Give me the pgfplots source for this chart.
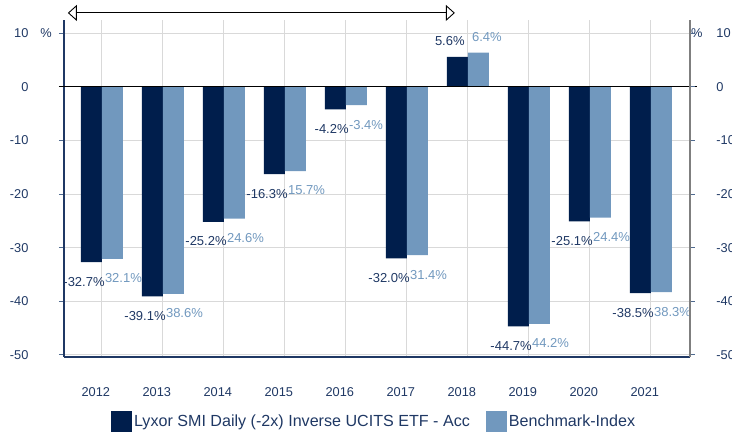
\documentclass[border=0pt]{standalone}
\usepackage{pgfplots}
\pgfplotsset{compat=1.18}
\usepackage{fontspec}
\setmainfont{Liberation Sans}
\usetikzlibrary{arrows.meta}
\definecolor{darkbar}{HTML}{001E4C}
\definecolor{lightbar}{HTML}{7198BE}
\definecolor{navytext}{HTML}{1F3864}
\definecolor{gridgray}{HTML}{D9D9D9}
\definecolor{tickgray}{HTML}{4F6A8F}
\definecolor{rightaxis}{HTML}{7F7F7F}

\pgfplotstableread{
x y label
0 -32.7 {-32.7\%}
1 -39.1 {-39.1\%}
2 -25.2 {-25.2\%}
3 -16.3 {-16.3\%}
4 -4.2 {-4.2\%}
5 -32.0 {-32.0\%}
6 5.6 {5.6\%}
7 -44.7 {-44.7\%}
8 -25.1 {-25.1\%}
9 -38.5 {-38.5\%}
}\fundtable

\pgfplotstableread{
x y label
0 -32.1 {32.1\%}
1 -38.6 {38.6\%}
2 -24.6 {24.6\%}
3 -15.7 {15.7\%}
4 -3.4 {-3.4\%}
5 -31.4 {31.4\%}
6 6.4 {6.4\%}
7 -44.2 {44.2\%}
8 -24.4 {24.4\%}
9 -38.3 {38.3\%}
}\benchtable

\begin{document}
\begin{tikzpicture}[font=\fontsize{12.8}{15}\selectfont]
\begin{axis}[
  name=main,
  scale only axis,
  width=625.9pt, height=337.1pt,
  xmin=-0.62, xmax=9.64,
  ymin=-50.4, ymax=12.5,
  clip=false,
  ybar=0pt, bar width=21pt,
  axis x line*=bottom, axis y line*=left,
  x axis line style={navytext, line width=1.2pt, -},
  y axis line style={navytext, line width=1.2pt, -},
  xtick={0,...,9},
  xticklabels={2012,2013,2014,2015,2016,2017,2018,2019,2020,2021},
  x tick style={draw=none},
  xticklabel style={text=navytext, yshift=-22pt, xshift=-6pt},
  ytick={-50,-40,-30,-20,-10,0,10},
  tick align=outside,
  major tick length=5pt,
  y tick style={tickgray, line width=1pt},
  yticklabel style={text=navytext, anchor=east, xshift=-27pt},
  /pgf/number format/assume math mode=true,
  xmajorgrids, ymajorgrids,
  grid style={gridgray, line width=0.9pt},
  point meta=explicit symbolic,
  nodes near coords,
  visualization depends on={y \as \ry},
  legend style={at={(0.075,0)}, anchor=north west, yshift=-54pt,
    draw=none, fill=none, inner sep=0pt,
    font=\fontsize{16.1}{18}\selectfont, text=navytext,
    legend columns=2,
    /tikz/every even column/.append style={column sep=14pt}},
  legend cell align=left,
]
\addplot[fill=darkbar, draw=none,
  every node near coord/.append style={anchor=east, inner sep=0pt,
    text=navytext, font=\fontsize{13}{15}\selectfont,
    xshift={ifthenelse(\ry<0,13.5,7.5)},
    yshift={ifthenelse(\ry<0,-19.5,15.5)}},
  legend image code/.code={\fill[darkbar] (0pt,-10.5pt) rectangle (21pt,10.5pt);}]
  table[x=x, y=y, meta=label] {\fundtable};
\addlegendentry{Lyxor SMI Daily (-2x) Inverse UCITS ETF - Acc}
\addplot[fill=lightbar, draw=none,
  every node near coord/.append style={anchor=west, inner sep=0pt,
    text=lightbar, font=\fontsize{13}{15}\selectfont,
    xshift={ifthenelse(\ry<0,-7.5,-6.5)},
    yshift={ifthenelse(\ry<0,-19.5,15.5)}},
  legend image code/.code={\fill[lightbar] (0pt,-10.5pt) rectangle (21pt,10.5pt);}]
  table[x=x, y=y, meta=label] {\benchtable};
\addlegendentry{Benchmark-Index}
\draw[black, line width=1pt] ([xshift=-5pt]axis cs:-0.62,0) -- ([xshift=7pt]axis cs:9.64,0);
\node[text=navytext, anchor=center] at ([xshift=-18pt]axis cs:-0.62,10) {\%};
\node[text=navytext, anchor=center] at ([xshift=7pt]axis cs:9.64,10) {\%};
\draw[black, line width=0.9pt, {Triangle[open, length=9pt, width=16pt, fill=white]}-{Triangle[open, length=9pt, width=16pt, fill=white]}]
  (axis cs:-0.557,13.8) -- (axis cs:5.787,13.8);
\end{axis}
\begin{axis}[
  scale only axis,
  width=625.9pt, height=337.1pt,
  xmin=-0.62, xmax=9.64,
  ymin=-50.4, ymax=12.5,
  axis x line=none,
  axis y line*=right,
  y axis line style={rightaxis, line width=1.4pt, -},
  ytick={-50,-40,-30,-20,-10,0,10},
  tick align=outside,
  major tick length=5pt,
  y tick style={tickgray, line width=1pt},
  yticklabel style={text=navytext, anchor=west, xshift=18pt},
  /pgf/number format/assume math mode=true,
]
\addplot[draw=none] coordinates {(0,0)};
\end{axis}
\pgfresetboundingbox
\path (main.south west) ++(-64pt,-77pt) rectangle ++(732pt,434pt);
\end{tikzpicture}
\end{document}
